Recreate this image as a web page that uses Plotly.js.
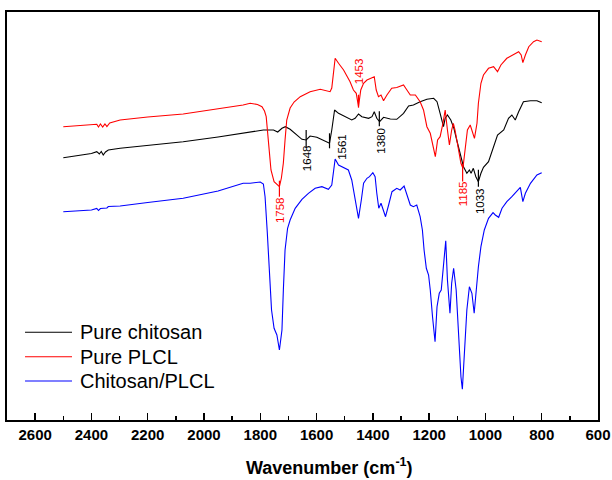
<!DOCTYPE html>
<html>
<head>
<meta charset="utf-8">
<script src="https://cdn.plot.ly/plotly-3.0.1.min.js"></script>
<style>html,body{margin:0;padding:0;background:#fff;}#chart{width:612px;height:480px;}</style>
</head>
<body>
<div id="chart"></div>
<script>
// ---- Data (wavenumber in cm-1, transmittance in arbitrary offset units) ----
const wnPLCL = [2500,2440,2400,2381,2375,2368,2360,2352,2345,2335,2298,2200,2074,1950,1861,1836,1825,1810,1794,1785,1779,1771,1762,1751,1740,1732,1725,1718,1712,1706,1694,1680,1658,1623,1587,1560,1552,1546,1540,1534,1522,1504,1481,1469,1459,1451,1443,1433,1421,1409,1395,1388,1380,1371,1362,1350,1333,1315,1291,1279,1267,1249,1232,1220,1208,1196,1184,1178,1170,1161,1151,1143,1135,1128,1120,1114,1108,1096,1087,1080,1072,1064,1054,1045,1039,1030,1025,1016,1007,989,971,957,945,924,900,882,873,867,858,846,829,817,800];
const tPLCL = [293.3,294.3,295,295.7,293,296,293,296,293.5,297,300,303,306,311,315,316.7,316,315.5,313.3,309,303.3,280,250,238.3,235,233.3,242,257,280,300,312,318,323.3,328.3,330.7,329,328.3,332,345,361.7,356.7,350,338.3,330,326.7,313.3,330,336.7,340,341.7,343.3,330,323.3,325,319.3,325,331.7,332.5,335,330,325,325,318.3,310,293.3,286.7,270,263.3,280,283.3,296.7,310,290,275,290,296.7,290,270,256.7,251.7,270,290,295,286.7,281.7,296.7,316.7,336.7,345,351.7,353.3,348.3,355,361.7,365,368.3,365,357.3,365,373.3,378.3,380,378.3];

const wnChitosan = [2500,2440,2400,2381,2372,2365,2358,2350,2340,2298,2200,2074,1950,1836,1789,1753,1745,1738,1723,1711,1694,1670,1652,1637,1623,1599,1575,1554,1546,1536,1522,1498,1475,1463,1451,1439,1415,1403,1395,1386,1376,1362,1350,1338,1315,1291,1273,1256,1232,1208,1184,1172,1161,1149,1143,1135,1123,1112,1102,1090,1078,1066,1057,1051,1043,1034,1025,1016,1007,989,971,957,935,918,906,894,882,865,840,817,800];
const tChitosan = [262.3,264.5,266.5,268.3,266,268.5,265,268,270,271.7,274.5,278.3,283,288.3,290,290,288.5,288,291.7,293.3,290.7,285,280.7,280,284,282.7,279.3,276.7,290,310,306.7,303.3,300,301.7,306,303.3,301.7,303.3,308.3,301.7,298.3,302.7,301.7,301,300.7,306.7,314,315,318.3,320.7,321.7,318.3,306.7,293.3,301.7,305,300,291.7,280,266.7,253.3,246.7,250,246.7,251.7,243.3,238.3,246.7,252.7,258.3,273.3,285,290,301.7,305,300,308.3,318.3,319.3,319.3,317.3];

const wnBlend = [2500,2440,2400,2381,2375,2368,2345,2340,2298,2200,2074,1950,1861,1836,1800,1789,1783,1775,1768,1760,1751,1741,1732,1723,1718,1712,1703,1694,1676,1652,1629,1605,1581,1558,1546,1534,1522,1504,1487,1475,1463,1451,1441,1433,1421,1412,1400,1392,1386,1379,1371,1362,1355,1344,1332,1315,1303,1289,1279,1267,1256,1244,1232,1224,1218,1210,1202,1196,1188,1179,1172,1164,1157,1149,1141,1135,1126,1120,1113,1104,1096,1087,1082,1075,1066,1057,1048,1040,1034,1025,1016,1004,989,973,965,953,941,924,906,888,876,867,858,840,817,800];
const tBlend = [208.3,209.3,210,211.5,209.5,211.5,212,213.5,214,217.5,221.7,229,236.7,236.7,238,236,223.3,187,143.3,110,91.7,85,70,90,130,170,191.7,200,211.7,220.7,226.7,231.7,233.3,230.7,235,261,255,252.7,250,240,220,201.7,220,236.7,241.7,243.3,247.3,243.3,226.7,211.7,216.7,208.3,203.3,215,228.3,231.7,230,234,225,215,213.3,215,203.3,190,170,151.7,145,130,103.3,78.3,113.3,126.7,130,156.7,179.3,140,106.7,136.7,151.7,130,83.3,43.3,30.7,63.3,110,133.3,126.7,106.7,126.7,153.3,173.3,190,201.7,207.3,205,202.7,211.7,218.3,223.3,229.3,232.7,218.3,226.7,236.7,245,247.3];

const seriesNames = ['Pure chitosan', 'Pure PLCL', 'Chitosan/PLCL'];
const xTickVals = [2600,2400,2200,2000,1800,1600,1400,1200,1000,800,600];

// Peak labels: text, wavenumber where marked, series index (0 chitosan, 1 PLCL)
const peakText = ['1758','1648','1561','1453','1380','1185','1033'];
const peakWn = [1732,1637,1554,1451,1377,1081,1025];
const peakSeries = [1,0,0,1,0,1,0];

// ---- Styles / placement (pixels) ----
const colors = ['#000000', '#ff0000', '#0000ff'];
const peakStyle = [
  {top:-6, bottom:10, dy:23, dx:0},
  {top:-10, bottom:8, dy:18, dx:1},
  {top:-10, bottom:5, dy:4, dx:13},
  {top:-12, bottom:1, dy:-35, dx:0},
  {top:-10, bottom:5, dy:19, dx:2},
  {top:-3, bottom:14, dy:26, dx:0},
  {top:-12, bottom:5, dy:19, dx:1}
];

const X = [wnChitosan, wnPLCL, wnBlend];
const Y = [tChitosan, tPLCL, tBlend];

function interp(xs, ys, x) {
  for (let i = 0; i < xs.length - 1; i++) {
    const a = xs[i], b = xs[i+1];
    if ((x <= a && x >= b) || (x >= a && x <= b)) {
      const f = (x - a) / (b - a);
      return ys[i] + f * (ys[i+1] - ys[i]);
    }
  }
  return ys[ys.length-1];
}

const FONT = 'Arial, sans-serif';

const traces = seriesNames.map((n, i) => ({
  type: 'scatter', mode: 'lines', name: n,
  x: X[i], y: Y[i],
  line: {color: colors[i], width: 1.1},
  showlegend: false, hoverinfo: 'skip'
}));

const shapes = [];
const annotations = [];

peakText.forEach((txt, k) => {
  const s = peakSeries[k];
  const yc = interp(X[s], Y[s], peakWn[k]);
  const st = peakStyle[k];
  shapes.push({
    type: 'line', xref: 'x', yref: 'y', ysizemode: 'pixel', yanchor: yc,
    x0: peakWn[k], x1: peakWn[k], y0: -st.bottom, y1: -st.top,
    line: {color: colors[s], width: 1.2}
  });
  annotations.push({
    xref: 'x', yref: 'y', x: peakWn[k], y: yc, showarrow: false,
    text: txt, textangle: -90, xshift: st.dx, yshift: -st.dy,
    font: {family: FONT, size: 11.5, color: colors[s]},
    xanchor: 'center', yanchor: 'middle'
  });
});

// custom legend
const legRows = [0.215, 0.155, 0.0956];
seriesNames.forEach((n, i) => {
  shapes.push({type: 'line', xref: 'paper', yref: 'paper', x0: 0.0305, x1: 0.110,
    y0: legRows[i], y1: legRows[i], line: {color: colors[i], width: 1.1}});
  annotations.push({xref: 'paper', yref: 'paper', x: 0.1201, y: legRows[i],
    xanchor: 'left', yanchor: 'middle', showarrow: false, text: n,
    font: {family: FONT, size: 20, color: '#000'}});
});

// axis title
annotations.push({xref: 'paper', yref: 'paper', x: 0.5465, y: -0.115,
  xanchor: 'center', yanchor: 'middle', showarrow: false,
  text: '<b>Wavenumber (cm<sup>-1</sup>)</b>',
  font: {family: FONT, size: 18, color: '#000'}});

const layout = {
  width: 612, height: 480,
  margin: {l: 7, r: 14, t: 12, b: 60, pad: 0},
  paper_bgcolor: '#fff', plot_bgcolor: '#fff',
  showlegend: false,
  xaxis: {
    range: [2700, 600], tickvals: xTickVals, ticktext: xTickVals.map(String),
    ticks: 'inside', ticklen: 7, tickwidth: 1.5, tickcolor: '#000',
    minor: {dtick: 100, tick0: 0, ticks: 'inside', ticklen: 4, tickwidth: 1.5, tickcolor: '#000'},
    showline: true, linewidth: 2, linecolor: '#000', mirror: true,
    showgrid: false, zeroline: false,
    tickfont: {family: FONT, size: 15, color: '#000', weight: 'bold'}
  },
  yaxis: {
    range: [0, 408], showticklabels: false, ticks: '',
    showline: true, linewidth: 2, linecolor: '#000', mirror: true,
    showgrid: false, zeroline: false
  },
  shapes: shapes,
  annotations: annotations
};

Plotly.newPlot('chart', traces, layout, {staticPlot: true, displayModeBar: false});
</script>
</body>
</html>
